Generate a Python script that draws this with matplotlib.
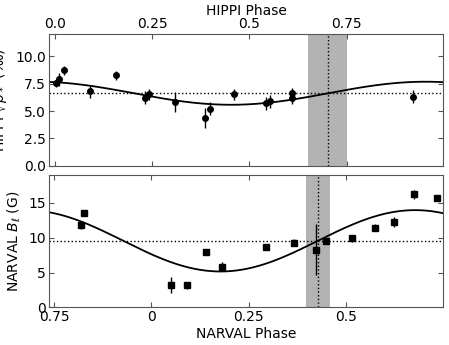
import numpy as np
import matplotlib
matplotlib.use("Agg")
import matplotlib.pyplot as plt

# HIPPI data (phase, value, error)
hip_phase = [0.002, 0.010, 0.024, 0.091, 0.158, 0.231, 0.241, 0.310, 0.387, 0.398,
             0.461, 0.542, 0.554, 0.610, 0.610, 0.920]
hip_val = [7.55, 7.9, 8.7, 6.8, 8.25, 6.2, 6.55, 5.8, 4.37, 5.2,
           6.55, 5.7, 5.9, 6.6, 6.17, 6.3]
hip_err = [0.4, 0.6, 0.4, 0.6, 0.4, 0.6, 0.5, 0.9, 0.9, 0.6,
           0.5, 0.6, 0.6, 0.5, 0.5, 0.6]
hip_mean = 6.62
hip_amp = 1.05
hip_peak = 0.953
hip_vline = 0.703
hip_band = (0.651, 0.752)

# NARVAL data (phase, B_l, error)
nar_phase = [-0.180, -0.173, 0.050, 0.093, 0.140, 0.181, 0.294, 0.366, 0.423, 0.450,
             0.515, 0.575, 0.624, 0.675, 0.735]
nar_val = [11.8, 13.5, 3.2, 3.2, 7.95, 5.85, 8.6, 9.3, 8.3, 9.5,
           9.9, 11.4, 12.3, 16.2, 15.7]
nar_err = [0.6, 0.3, 1.1, 0.5, 0.4, 0.7, 0.4, 0.5, 3.7, 0.4,
           0.5, 0.5, 0.7, 0.6, 0.4]
nar_mean = 9.55
nar_amp = 4.4
nar_peak = 0.678
nar_vline = 0.428
nar_band = (0.398, 0.459)

plt.rcParams['font.size'] = 10
spine_col = '#555555'

fig = plt.figure(figsize=(4.49, 3.45), dpi=100)
ax1 = fig.add_axes([0.109, 0.519, 0.878, 0.382])
ax2 = fig.add_axes([0.109, 0.109, 0.878, 0.384])

# top panel
x1 = np.linspace(-0.015, 0.998, 400)
ax1.axvspan(hip_band[0], hip_band[1], color='#b3b3b3', lw=0, zorder=0)
ax1.axvline(hip_vline, color='k', ls=':', lw=1)
ax1.axhline(hip_mean, color='k', ls=':', lw=1)
ax1.plot(x1, hip_mean + hip_amp * np.cos(2 * np.pi * (x1 - hip_peak)), 'k-', lw=1.3)
ax1.errorbar(hip_phase, hip_val, yerr=hip_err, fmt='o', color='k', ms=4, elinewidth=1, capsize=0)
ax1.set_xlim(-0.015, 0.998)
ax1.set_ylim(0, 12)
ax1.set_yticks([0, 2.5, 5, 7.5, 10])
ax1.set_yticklabels(['0.0', '2.5', '5.0', '7.5', '10.0'])
ax1.set_xticks([0, 0.25, 0.5, 0.75])
ax1.set_xticklabels(['0.0', '0.25', '0.5', '0.75'])
ax1.xaxis.set_label_position('top')
ax1.tick_params(direction='in', top=True, bottom=True, left=True, right=True,
                labeltop=True, labelbottom=False, color=spine_col, pad=2)
ax1.set_xlabel('HIPPI Phase', labelpad=2)
ax1.set_ylabel(r'HIPPI $\sqrt{p_*}$ (‰)')

# bottom panel
x2 = np.linspace(-0.263, 0.75, 400)
ax2.axvspan(nar_band[0], nar_band[1], color='#b3b3b3', lw=0, zorder=0)
ax2.axvline(nar_vline, color='k', ls=':', lw=1)
ax2.axhline(nar_mean, color='k', ls=':', lw=1)
ax2.plot(x2, nar_mean + nar_amp * np.cos(2 * np.pi * (x2 - nar_peak)), 'k-', lw=1.3)
ax2.errorbar(nar_phase, nar_val, yerr=nar_err, fmt='s', color='k', ms=4, elinewidth=1, capsize=0)
ax2.set_xlim(-0.263, 0.75)
ax2.set_ylim(0, 19)
ax2.set_yticks([0, 5, 10, 15])
ax2.set_xticks([-0.25, 0, 0.25, 0.5])
ax2.set_xticklabels(['0.75', '0', '0.25', '0.5'])
ax2.tick_params(direction='in', top=True, bottom=True, left=True, right=True,
                color=spine_col, pad=2)
ax2.set_xlabel('NARVAL Phase', labelpad=2)
ax2.set_ylabel(r'NARVAL $B_\ell$ (G)')

for ax in (ax1, ax2):
    for s in ax.spines.values():
        s.set_color(spine_col)

fig.savefig('out.png', dpi=100)
